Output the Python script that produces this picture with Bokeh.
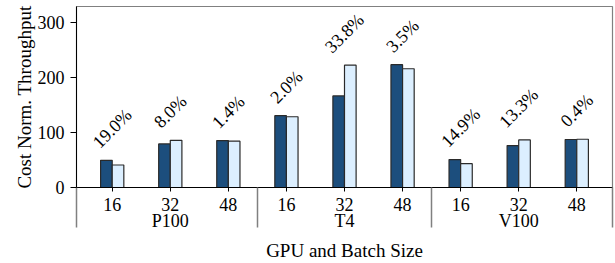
import math
from bokeh.plotting import figure
from bokeh.models import FixedTicker, ColumnDataSource, Range1d
from bokeh.transform import dodge
from bokeh.core.properties import value
from bokeh.embed import file_html
from bokeh.resources import INLINE

# ---- data ----
gpus = ["P100", "T4", "V100"]
batch_sizes = ["16", "32", "48"]
series_dark = [49.5, 79.5, 85.5, 131.0, 167.0, 224.0, 51.0, 76.5, 87.5]
series_light = [41.0, 86.0, 84.5, 129.0, 223.0, 216.5, 43.5, 86.8, 88.0]
pct_labels = ["19.0%", "8.0%", "1.4%", "2.0%", "33.8%", "3.5%", "14.9%", "13.3%", "0.4%"]
y_ticks = [0, 100, 200, 300]
x_title = "GPU and Batch Size"
y_title = "Cost Norm. Throughput"

FONT = "'Liberation Serif', 'Times New Roman', serif"
DARK = "#1c4e7d"
LIGHT = "#dcefff"
EDGE = "#2a2a2a"
FS = 18

W, H = 615, 263
B_LEFT, B_RIGHT, B_TOP, B_BOTTOM = 76, 3, 6, 75
Y_MAX = 330

n = len(series_dark)
nb = len(batch_sizes)
xs = list(range(n))
# batch-size tick labels; the middle tick of each group also carries the GPU name
tick_labels = {}
for i in xs:
    g, b = divmod(i, nb)
    lab = batch_sizes[b]
    if b == (nb - 1) // 2:
        lab = lab + "\n" + gpus[g]
    tick_labels[i] = lab

pad = 0.615
x_start, x_end = -pad, (n - 1) + pad
separators = [x_start + 0.002] + [g * nb - 0.5 for g in range(1, len(gpus))] + [x_end - 0.002]

# label offsets (screen px) so rotated label sits just above the taller bar
char_w = {".": 0.25, "%": 0.833}
def text_w(s):
    return sum(char_w.get(c, 0.5) for c in s) * FS
yoff = [-(11 + (text_w(s) + 0.7 * FS) / (2 * math.sqrt(2))) for s in pct_labels]
tops = [max(a, b) for a, b in zip(series_dark, series_light)]

src = ColumnDataSource(dict(x=xs, dark=series_dark, light=series_light,
                            top=tops, lab=pct_labels, yoff=yoff))

p = figure(width=W, height=H, output_backend="svg", toolbar_location=None,
           x_range=Range1d(x_start, x_end), y_range=Range1d(0, Y_MAX),
           min_border_left=B_LEFT, min_border_right=B_RIGHT, min_border_top=B_TOP,
           min_border_bottom=B_BOTTOM)

p.vbar(x=dodge("x", -0.1), top="dark", width=0.2, source=src,
       fill_color=DARK, line_color=EDGE, line_width=1.2)
p.vbar(x=dodge("x", 0.1), top="light", width=0.2, source=src,
       fill_color=LIGHT, line_color=EDGE, line_width=1.2)

p.text(x="x", y="top", text="lab", source=src, angle=45, angle_units="deg",
       y_offset="yoff", text_align="center", text_baseline="middle",
       text_font=value(FONT), text_font_size=f"{FS}px", text_color="black")

p.grid.visible = False
p.outline_line_color = "#808080"
p.outline_line_width = 1.2
p.background_fill_color = "white"
p.border_fill_color = "white"

# y axis
ya = p.yaxis[0]
ya.ticker = FixedTicker(ticks=y_ticks)
ya.axis_label = y_title
ya.axis_label_text_font = FONT
ya.axis_label_text_font_size = "19px"
ya.axis_label_text_font_style = "normal"
ya.axis_label_text_color = "black"
ya.axis_label_standoff = 0
ya.major_label_text_font = FONT
ya.major_label_text_font_size = f"{FS}px"
ya.major_label_text_color = "black"
ya.major_label_standoff = 6
ya.major_tick_out = 6
ya.major_tick_in = 0
ya.minor_tick_line_color = None
ya.axis_line_color = "black"
ya.major_tick_line_color = "black"

# x axis: batch sizes, GPU names, group separators (long minor ticks), title
SEP_LEN = 40
xa = p.xaxis[0]
xa.ticker = FixedTicker(ticks=xs, minor_ticks=separators)
xa.major_label_overrides = tick_labels
xa.major_label_text_font = FONT
xa.major_label_text_font_size = f"{FS}px"
xa.major_label_text_color = "black"
xa.major_label_text_line_height = 0.82
xa.major_label_standoff = 7 - SEP_LEN
xa.major_tick_out = 4
xa.major_tick_in = 0
xa.major_tick_line_color = "black"
xa.axis_line_color = "black"
xa.minor_tick_out = SEP_LEN
xa.minor_tick_in = 0
xa.minor_tick_line_color = "#808080"
xa.minor_tick_line_width = 1.5
xa.axis_label = x_title
xa.axis_label_text_font = FONT
xa.axis_label_text_font_size = "19px"
xa.axis_label_text_font_style = "normal"
xa.axis_label_text_color = "black"
xa.axis_label_standoff = 6

open("out.html", "w").write(file_html(p, INLINE))
